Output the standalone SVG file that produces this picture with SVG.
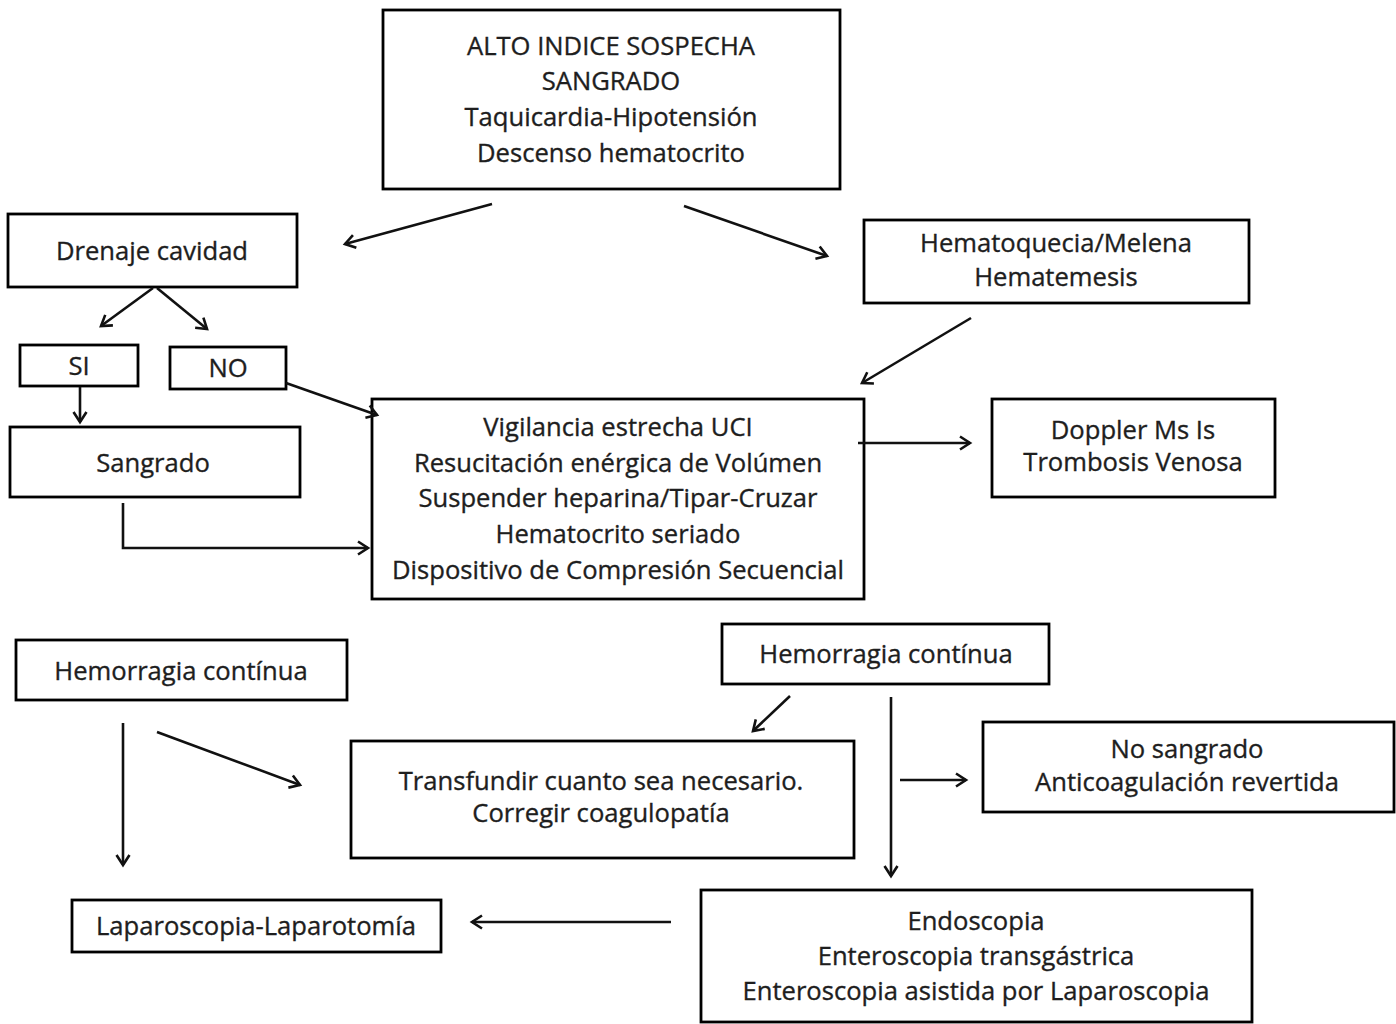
<svg xmlns="http://www.w3.org/2000/svg" width="1396" height="1024" viewBox="0 0 1396 1024">
<defs>
<style>
.b{fill:#fff;stroke:#000;stroke-width:2.8}
.t{font-family:"Open Sans",Lato,"Liberation Sans",sans-serif;font-size:25.6px;fill:#1e1e1e;stroke:#1e1e1e;stroke-width:0.35;text-anchor:middle}
.c{fill:none;stroke:#111;stroke-width:2.6;marker-end:url(#ah)}
</style>
<marker id="ah" markerWidth="16" markerHeight="16" refX="12" refY="8" orient="auto" markerUnits="userSpaceOnUse" viewBox="0 0 16 16">
<polyline points="2,1.5 12,8 2,14.5" fill="none" stroke="#111" stroke-width="2.6"/>
</marker>
</defs>
<rect width="1396" height="1024" fill="#fff"/>
<g id="alto"><rect class="b" x="383" y="10" width="457" height="179"/>
<text class="t" x="611" y="55">ALTO INDICE SOSPECHA</text>
<text class="t" x="611" y="90">SANGRADO</text>
<text class="t" x="611" y="126">Taquicardia-Hipotensión</text>
<text class="t" x="611" y="162">Descenso hematocrito</text></g>
<g id="drenaje"><rect class="b" x="8" y="214" width="289" height="73"/>
<text class="t" x="152" y="260">Drenaje cavidad</text></g>
<g id="hematoquecia"><rect class="b" x="864" y="220" width="385" height="83"/>
<text class="t" x="1056" y="252">Hematoquecia/Melena</text>
<text class="t" x="1056" y="286">Hematemesis</text></g>
<g id="si"><rect class="b" x="20" y="345" width="118" height="41"/>
<text class="t" x="79" y="375">SI</text></g>
<g id="no"><rect class="b" x="170" y="347" width="116" height="42"/>
<text class="t" x="228" y="377">NO</text></g>
<g id="sangrado"><rect class="b" x="10" y="427" width="290" height="70"/>
<text class="t" x="153" y="472">Sangrado</text></g>
<g id="vigilancia"><rect class="b" x="372" y="399" width="492" height="200"/>
<text class="t" x="618" y="436">Vigilancia estrecha UCI</text>
<text class="t" x="618" y="472">Resucitación enérgica de Volúmen</text>
<text class="t" x="618" y="507">Suspender heparina/Tipar-Cruzar</text>
<text class="t" x="618" y="543">Hematocrito seriado</text>
<text class="t" x="618" y="579">Dispositivo de Compresión Secuencial</text></g>
<g id="doppler"><rect class="b" x="992" y="399" width="283" height="98"/>
<text class="t" x="1133" y="439">Doppler Ms Is</text>
<text class="t" x="1133" y="471">Trombosis Venosa</text></g>
<g id="hemorragia1"><rect class="b" x="16" y="640" width="331" height="60"/>
<text class="t" x="181" y="680">Hemorragia contínua</text></g>
<g id="hemorragia2"><rect class="b" x="722" y="624" width="327" height="60"/>
<text class="t" x="886" y="663">Hemorragia contínua</text></g>
<g id="transfundir"><rect class="b" x="351" y="741" width="503" height="117"/>
<text class="t" x="601" y="790">Transfundir cuanto sea necesario.</text>
<text class="t" x="601" y="822">Corregir coagulopatía</text></g>
<g id="nosangrado"><rect class="b" x="983" y="722" width="411" height="90"/>
<text class="t" x="1187" y="758">No sangrado</text>
<text class="t" x="1187" y="791">Anticoagulación revertida</text></g>
<g id="laparoscopia"><rect class="b" x="72" y="900" width="369" height="52"/>
<text class="t" x="256" y="935">Laparoscopia-Laparotomía</text></g>
<g id="endoscopia"><rect class="b" x="701" y="890" width="551" height="132"/>
<text class="t" x="976" y="930">Endoscopia</text>
<text class="t" x="976" y="965">Enteroscopia transgástrica</text>
<text class="t" x="976" y="1000">Enteroscopia asistida por Laparoscopia</text></g>
<g id="connectors">
<line class="c" x1="492" y1="204" x2="345" y2="244"/>
<line class="c" x1="684" y1="206" x2="827" y2="256"/>
<line class="c" x1="153" y1="288" x2="101" y2="326"/>
<line class="c" x1="157" y1="288" x2="207" y2="329"/>
<line class="c" x1="80" y1="387" x2="80" y2="422"/>
<line class="c" x1="286" y1="383" x2="377" y2="415"/>
<polyline class="c" points="123,503 123,548 368,548"/>
<line class="c" x1="971" y1="318" x2="862" y2="383"/>
<line class="c" x1="858" y1="443" x2="970" y2="443"/>
<line class="c" x1="123" y1="723" x2="123" y2="865"/>
<line class="c" x1="157" y1="732" x2="300" y2="785"/>
<line class="c" x1="790" y1="696" x2="753" y2="731"/>
<line class="c" x1="891" y1="697" x2="891" y2="876"/>
<line class="c" x1="900" y1="780" x2="966" y2="780"/>
<line class="c" x1="671" y1="922" x2="472" y2="922"/>
</g>
</svg>
